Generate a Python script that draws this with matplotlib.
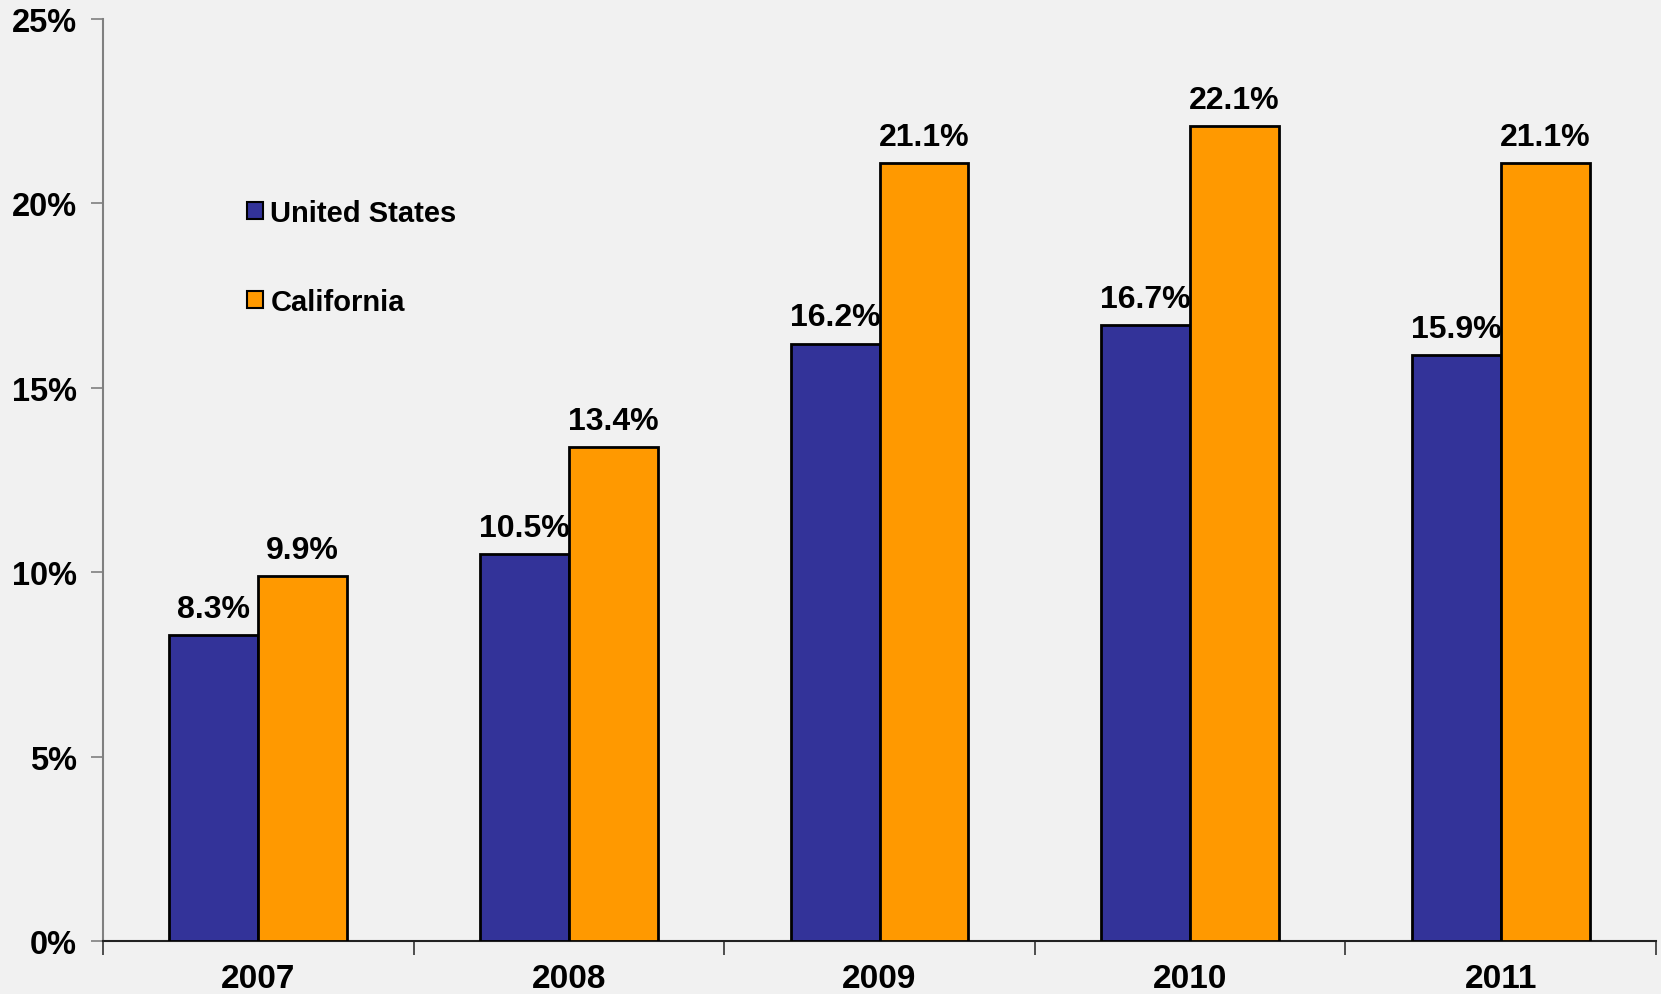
import matplotlib
matplotlib.use("Agg")
import matplotlib.pyplot as plt
import numpy as np
from matplotlib.patches import Patch

years = ["2007", "2008", "2009", "2010", "2011"]
us_values = [8.3, 10.5, 16.2, 16.7, 15.9]
ca_values = [9.9, 13.4, 21.1, 22.1, 21.1]
series_names = ["United States", "California"]
y_ticks = [0, 5, 10, 15, 20, 25]

plt.rcParams['font.family'] = ['Liberation Sans', 'DejaVu Sans']
plt.rcParams['font.weight'] = 'bold'

BG = '#F1F1F1'
US_C = '#333399'
CA_C = '#FF9900'
FS_LAB = 23
FS_TICK = 23.5
FS_X = 24
FS_LEG = 21

fig = plt.figure(figsize=(16.61, 9.95), dpi=100, facecolor=BG)
ax = fig.add_axes([103/1661, 1 - 942/995, (1656-103)/1661, (942-20)/995])
ax.set_facecolor(BG)

x = np.arange(len(years))
w = 0.286
b1 = ax.bar(x - w/2, us_values, w, color=US_C, edgecolor='black', linewidth=2, zorder=3)
b2 = ax.bar(x + w/2, ca_values, w, color=CA_C, edgecolor='black', linewidth=2, zorder=3)

for bars, vals in ((b1, us_values), (b2, ca_values)):
    for r, v in zip(bars, vals):
        ax.annotate(f"{v:.1f}%", (r.get_x() + r.get_width()/2, v),
                    xytext=(0, 13), textcoords='offset points',
                    ha='center', va='baseline', fontsize=FS_LAB, fontweight='bold', zorder=5)

ax.set_xlim(-0.5, len(years) - 0.5)
ax.set_ylim(0, 25)
ax.set_yticks(y_ticks)
ax.set_yticklabels([f"{t}%" for t in y_ticks], fontsize=FS_TICK, fontweight='bold')
ax.tick_params(axis='y', length=9, width=1.2, color='#808080', pad=10)

ax.set_xticks(np.arange(-0.5, len(years), 1.0))
ax.set_xticklabels([])
ax.set_xticks(x, minor=True)
ax.set_xticklabels(years, minor=True, fontsize=FS_X, fontweight='bold')
ax.tick_params(axis='x', which='major', length=10, width=1.2, color='#333333', direction='out')
ax.tick_params(axis='x', which='minor', length=0, pad=16)

for s in ('top', 'right'):
    ax.spines[s].set_visible(False)
ax.spines['left'].set_color('#808080')
ax.spines['left'].set_linewidth(1.5)
ax.spines['bottom'].set_color('#222222')
ax.spines['bottom'].set_linewidth(1.5)

handles = [Patch(facecolor=US_C, edgecolor='black', linewidth=1.5),
           Patch(facecolor=CA_C, edgecolor='black', linewidth=1.5)]
leg = fig.legend(handles, series_names, loc='upper left',
                 bbox_to_anchor=(247/1661, 1 - 200/995), frameon=False,
                 prop={'weight': 'bold', 'size': FS_LEG},
                 handlelength=0.55, handleheight=0.55, handletextpad=0.25,
                 labelspacing=2.08, borderpad=0, borderaxespad=0)

fig.savefig("out.png", dpi=100, facecolor=BG)
